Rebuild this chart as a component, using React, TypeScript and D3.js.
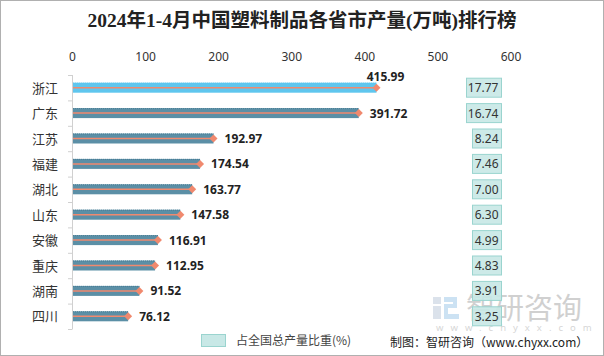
import React from "react";
import * as d3 from "d3";

const provinces = ["浙江", "广东", "江苏", "福建", "湖北", "山东", "安徽", "重庆", "湖南", "四川"];
const output = [415.99, 391.72, 192.97, 174.54, 163.77, 147.58, 116.91, 112.95, 91.52, 76.12];
const share = ["17.77", "16.74", "8.24", "7.46", "7.00", "6.30", "4.99", "4.83", "3.91", "3.25"];
const xTicks = [0, 100, 200, 300, 400, 500, 600];

const W = 604, H = 356;
const numFont = "'Noto Sans', 'DejaVu Sans', sans-serif";
const cjkFont = "'Noto Sans CJK SC', sans-serif";

export default function App() {
  const x = d3.scaleLinear().domain([0, 600]).range([72.5, 511]);
  const y = d3.scaleBand<string>().domain(provinces).range([75, 329]);
  const bh = 10;
  return (
    <svg width={W} height={H} style={{ position: "absolute", left: 0, top: 0 }}>
      <rect x={0.5} y={0.5} width={W - 1} height={H - 1} fill="#fff" stroke="#b0b0b0" />
      <text x={302} y={27} textAnchor="middle" fontSize={19.5} fontWeight="bold" fill="#222"
        fontFamily="'Liberation Serif', 'Noto Sans CJK SC', serif">2024年1-4月中国塑料制品各省市产量(万吨)排行榜</text>
      {xTicks.map(t => (
        <text key={t} x={x(t)} y={61} textAnchor="middle" fontSize={12} fill="#333" fontFamily={numFont}>{t}</text>
      ))}
      <line x1={72.5} x2={72.5} y1={75} y2={329} stroke="#d0d0d0" />
      {[...provinces.map(p => y(p)!), 329].map((v, i) => (
        <line key={i} x1={68} x2={72.5} y1={v + 0.5} y2={v + 0.5} stroke="#d0d0d0" />
      ))}
      <g opacity={0.3}>
        <rect x={433} y={297} width={8} height={7} fill="#8aa0c0" />
        <rect x={433} y={306} width={8} height={13} fill="#8aa0c0" />
        <path d="M444,297 h13 v11 h-9 v6 h11 v5 h-15 v-15 h9 v-2 h-9 z" fill="#5aa0d8" />
        <text x={466} y={319} fontSize={29} fill="#666" fontFamily={cjkFont}>智研咨询</text>
        <text x={436} y={331} fontSize={9.5} fill="#777" letterSpacing={7} fontFamily={numFont}>www.chyxx.com</text>
      </g>
      {provinces.map((p, i) => {
        const cy = y(p)! + y.bandwidth() / 2;
        const xe = x(output[i]);
        return (
          <g key={p}>
            <text x={58} y={cy + 5} textAnchor="end" fontSize={13} fill="#333" fontFamily={cjkFont}>{p}</text>
            <rect x={73} y={cy - bh / 2} width={xe - 73} height={bh} fill={i === 0 ? "#5fc6ee" : "#5b8fa6"} />
            <line x1={73} x2={xe} y1={cy - bh / 2 + 0.5} y2={cy - bh / 2 + 0.5} stroke={i === 0 ? "#5fc6ee" : "#4a7d95"} strokeDasharray="1,1" />
            <line x1={73} x2={xe} y1={cy} y2={cy} stroke="#f0896e" strokeWidth={1.5} />
            <path d={`M${xe - 4},${cy} L${xe},${cy - 4} L${xe + 4},${cy} L${xe},${cy + 4} Z`} fill="#f0896e" />
            {i === 0 ? (
              <text x={xe + 9} y={cy - 7} textAnchor="middle" fontSize={12} fontWeight="bold" fill="#222" fontFamily={numFont}>{output[i].toFixed(2)}</text>
            ) : (
              <text x={xe + 11} y={cy + 4.5} fontSize={12} fontWeight="bold" fill="#222" fontFamily={numFont}>{output[i].toFixed(2)}</text>
            )}
            <ShareBox cy={cy} label={share[i]} />
          </g>
        );
      })}
      <rect x={201.5} y={334.5} width={24} height={12} fill="#c8e8e6" stroke="#9ad4cf" />
      <text x={236} y={345} fontSize={12} fill="#444" fontFamily={cjkFont}>占全国总产量比重(%)</text>
      <text x={390} y={347} fontSize={12} fill="#222" fontFamily={cjkFont}>制图：智研咨询（www.chyxx.com）</text>
    </svg>
  );
}

function ShareBox({ cy, label }: { cy: number; label: string }) {
  const right = 501;
  const w = Math.round(label.length * 6.2 + 4);
  return (
    <g>
      <rect x={right - w + 0.5} y={cy - 9.5} width={w} height={19} fill="#c8e8e6" fillOpacity={0.9} stroke="#9ad4cf" />
      <text x={right - 2.5} y={cy + 4.5} textAnchor="end" fontSize={12} fill="#333" fontFamily={numFont}>{label}</text>
    </g>
  );
}
